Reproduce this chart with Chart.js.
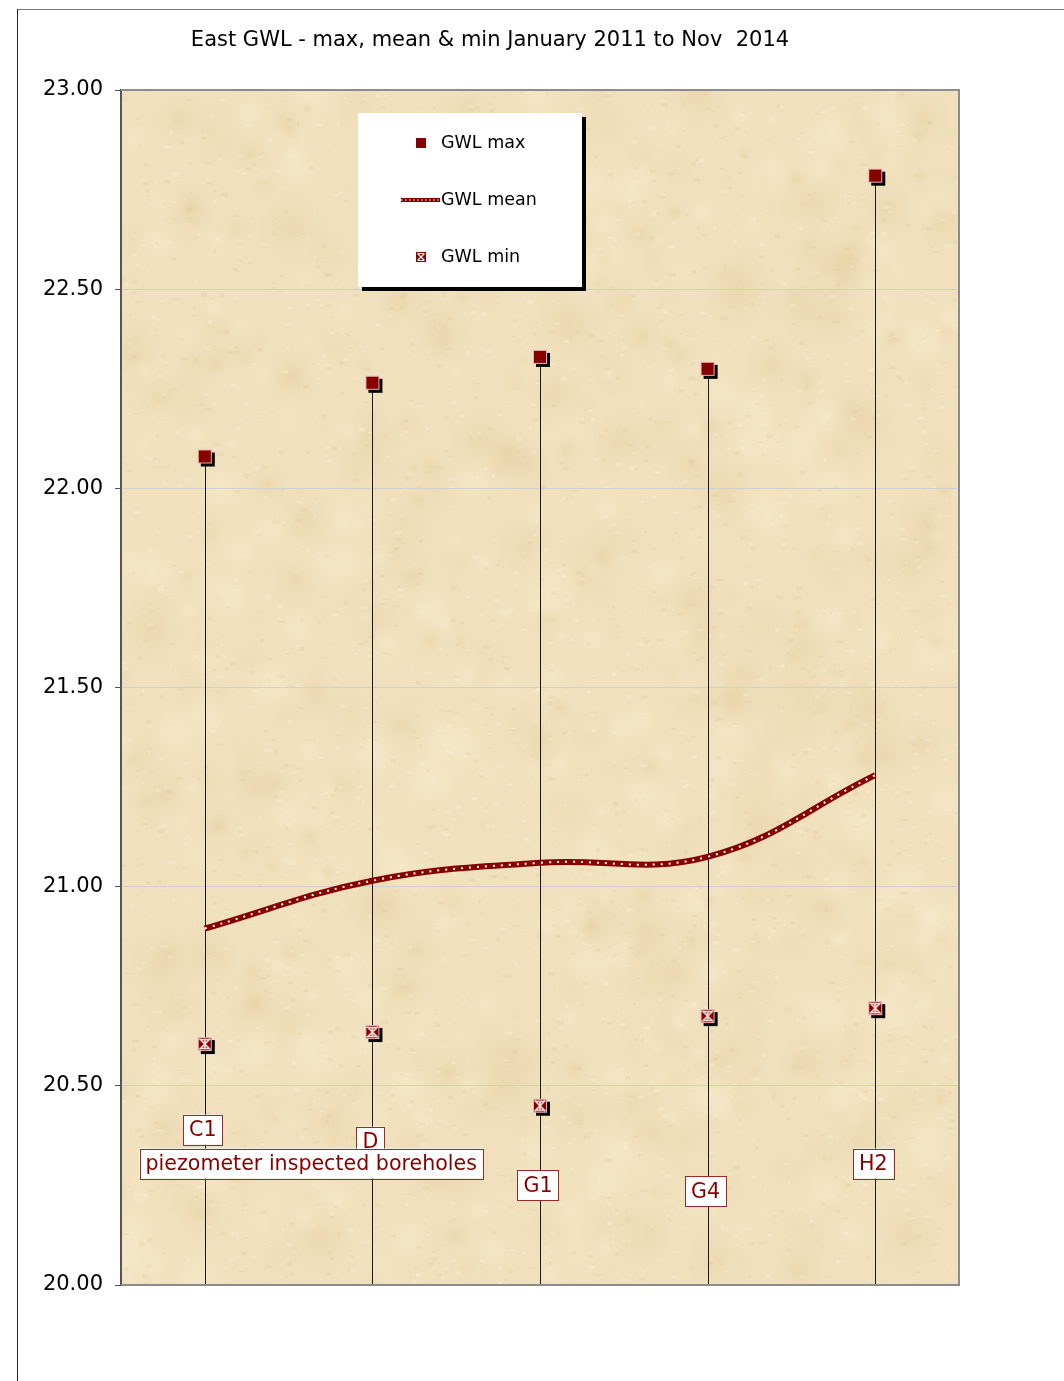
<!DOCTYPE html>
<html lang="en">
<head>
    <meta charset="UTF-8">
    <title>East GWL - max, mean & min</title>
    <style>
        body {
            margin: 0;
            background: #fff;
            font-family: "DejaVu Sans", Verdana, sans-serif;
        }
        #frame {
            position: absolute;
            left: 17px;
            top: 9px;
            width: 1100px;
            height: 1400px;
            border-left: 1px solid #222;
            border-top: 1px solid #777;
        }
        #wrap {
            position: absolute;
            left: 0;
            top: 0;
            width: 1064px;
            height: 1381px;
        }
    </style>
    <script src="https://cdn.jsdelivr.net/npm/chart.js"></script>
</head>
<body>
    <div id="frame"></div>
    <div id="wrap"><canvas id="gwlChart" width="1064" height="1381"></canvas></div>

    <script>
        // boreholes and water levels (m)
        const boreholes = ["C1", "D", "G1", "G4", "H2"];
        const gwlMax = [22.08, 22.265, 22.33, 22.30, 22.785];
        const gwlMean = [20.895, 21.015, 21.06, 21.075, 21.28];
        const gwlMin = [20.605, 20.635, 20.45, 20.675, 20.695];
        // y value where each borehole name box sits
        const labelLevel = [20.39, 20.36, 20.25, 20.235, 20.305];
        const yTicks = [20, 20.5, 21, 21.5, 22, 22.5, 23];
        const noteText = "piezometer inspected boreholes";
        const notePos = 0.635;   // category position of the note box
        const noteLevel = 20.305;
        const chartTitle = "East GWL - max, mean & min January 2011 to Nov  2014";

        const RED = "#870000";
        const FONT = '"DejaVu Sans", Verdana, sans-serif';

        function makeMarker(kind) {
            let c = document.createElement("canvas");
            c.width = 30; c.height = 30;
            let g = c.getContext("2d");
            // shadow
            g.fillStyle = "#000";
            g.fillRect(11, 11, 14, 14);
            g.fillStyle = RED;
            g.fillRect(8, 8, 14, 14);
            g.strokeStyle = "#e8b0b0";
            g.lineWidth = 1;
            g.strokeRect(8.5, 8.5, 13, 13);
            if (kind === "min") {
                g.strokeStyle = "#fbe6e6";
                g.lineWidth = 1.6;
                g.beginPath();
                g.moveTo(9.5, 9.5); g.lineTo(20.5, 20.5);
                g.moveTo(20.5, 9.5); g.lineTo(9.5, 20.5);
                g.moveTo(10, 10.5); g.lineTo(20, 10.5);
                g.moveTo(10, 19.5); g.lineTo(20, 19.5);
                g.moveTo(15, 11); g.lineTo(15, 19);
                g.stroke();
            }
            return c;
        }
        const maxMarker = makeMarker("max");
        const minMarker = makeMarker("min");

        function smallMarker(kind) {
            let c = document.createElement("canvas");
            c.width = 12; c.height = 12;
            let g = c.getContext("2d");
            g.fillStyle = RED;
            g.fillRect(1, 1, 10, 10);
            if (kind === "min") {
                g.strokeStyle = "#fff";
                g.lineWidth = 1.2;
                g.beginPath();
                g.moveTo(2.5, 2.5); g.lineTo(9.5, 9.5);
                g.moveTo(9.5, 2.5); g.lineTo(2.5, 9.5);
                g.moveTo(3, 2.5); g.lineTo(9, 2.5);
                g.moveTo(3, 9.5); g.lineTo(9, 9.5);
                g.stroke();
            }
            return c;
        }

        // seeded generator, only for the parchment texture
        let seed = 7;
        function rnd() {
            seed = (seed * 16807) % 2147483647;
            return (seed - 1) / 2147483646;
        }
        function makeParchment(w, h) {
            let c = document.createElement("canvas");
            c.width = w; c.height = h;
            let g = c.getContext("2d");
            g.fillStyle = "#f0e0bd";
            g.fillRect(0, 0, w, h);
            const tints = ["rgba(226,200,150,0.35)", "rgba(250,238,210,0.45)", "rgba(232,210,165,0.3)", "rgba(246,232,200,0.4)"];
            for (let i = 0; i < 900; i++) {
                let x = rnd() * w, y = rnd() * h, r = 8 + rnd() * 40;
                let grd = g.createRadialGradient(x, y, 0, x, y, r);
                grd.addColorStop(0, tints[i % tints.length]);
                grd.addColorStop(1, "rgba(240,224,189,0)");
                g.fillStyle = grd;
                g.fillRect(x - r, y - r, 2 * r, 2 * r);
            }
            for (let i = 0; i < 2500; i++) {
                let x = rnd() * w, y = rnd() * h;
                g.fillStyle = rnd() > 0.5 ? "rgba(215,188,140,0.18)" : "rgba(255,248,228,0.25)";
                g.fillRect(x, y, 2 + rnd() * 5, 1 + rnd() * 3);
            }
            return c;
        }

        const backgroundPlugin = {
            id: "parchment",
            beforeDraw(chart) {
                const a = chart.chartArea;
                const ctx = chart.ctx;
                if (!chart._parch) chart._parch = makeParchment(Math.ceil(a.right - a.left), Math.ceil(a.bottom - a.top));
                ctx.drawImage(chart._parch, a.left, a.top);
                // title
                ctx.save();
                ctx.fillStyle = "#000";
                ctx.font = "21px " + FONT;
                ctx.textAlign = "center";
                ctx.textBaseline = "middle";
                ctx.fillText(chartTitle, 490, 41);
                ctx.restore();
            },
            afterDraw(chart) {
                const a = chart.chartArea;
                const ctx = chart.ctx;
                ctx.save();
                ctx.strokeStyle = "#8c8c8c";
                ctx.lineWidth = 2;
                ctx.beginPath();
                ctx.moveTo(a.left, a.top);
                ctx.lineTo(a.right, a.top);
                ctx.lineTo(a.right, a.bottom);
                ctx.lineTo(a.left, a.bottom);
                ctx.stroke();
                ctx.restore();
            }
        };

        const dropLinePlugin = {
            id: "dropLines",
            beforeDatasetsDraw(chart) {
                const ctx = chart.ctx;
                const xs = chart.scales.x, ys = chart.scales.y;
                ctx.save();
                ctx.strokeStyle = "#1a1a1a";
                ctx.lineWidth = 1;
                gwlMax.forEach((v, i) => {
                    let x = Math.round(xs.getPixelForValue(i)) + 0.5;
                    ctx.beginPath();
                    ctx.moveTo(x, ys.getPixelForValue(v));
                    ctx.lineTo(x, chart.chartArea.bottom);
                    ctx.stroke();
                });
                ctx.restore();
            }
        };

        function boxLabel(ctx, text, cx, cy) {
            ctx.font = "20.6px " + FONT;
            let w = ctx.measureText(text).width + 12;
            let h = 30;
            ctx.fillStyle = "#fff";
            ctx.fillRect(cx - w / 2, cy - h / 2, w, h);
            ctx.strokeStyle = "#9a2a2a";
            ctx.lineWidth = 1;
            ctx.strokeRect(Math.round(cx - w / 2) + 0.5, Math.round(cy - h / 2) + 0.5, Math.round(w), h);
            ctx.fillStyle = RED;
            ctx.textAlign = "center";
            ctx.textBaseline = "middle";
            ctx.fillText(text, cx, cy + 1);
        }

        const labelPlugin = {
            id: "boreLabels",
            afterDatasetsDraw(chart) {
                const ctx = chart.ctx;
                const xs = chart.scales.x, ys = chart.scales.y;
                ctx.save();
                boreholes.forEach((b, i) => {
                    boxLabel(ctx, b, xs.getPixelForValue(i) - 2, ys.getPixelForValue(labelLevel[i]));
                });
                boxLabel(ctx, noteText, xs.getPixelForValue(notePos), ys.getPixelForValue(noteLevel));
                ctx.restore();
            }
        };

        const legendPlugin = {
            id: "boxLegend",
            afterDraw(chart) {
                const ctx = chart.ctx;
                const x0 = 358, y0 = 113, w = 224, h = 174;
                ctx.save();
                ctx.fillStyle = "#000";
                ctx.fillRect(x0 + 4, y0 + 4, w, h);
                ctx.fillStyle = "#fff";
                ctx.fillRect(x0, y0, w, h);
                ctx.font = "17.5px " + FONT;
                ctx.textBaseline = "middle";
                ctx.textAlign = "left";
                const rows = [143, 200, 257];
                ctx.drawImage(smallMarker("max"), 415, rows[0] - 6);
                ctx.drawImage(smallMarker("min"), 415, rows[2] - 6);
                ctx.strokeStyle = RED;
                ctx.lineWidth = 4;
                ctx.beginPath();
                ctx.moveTo(401, rows[1]);
                ctx.lineTo(440, rows[1]);
                ctx.stroke();
                ctx.strokeStyle = "#fff";
                ctx.lineWidth = 1;
                ctx.setLineDash([1.5, 2.5]);
                ctx.beginPath();
                ctx.moveTo(401, rows[1]);
                ctx.lineTo(440, rows[1]);
                ctx.stroke();
                ctx.setLineDash([]);
                ctx.fillStyle = "#000";
                const names = chart.data.datasets.filter(d => d.label).map(d => d.label);
                names.forEach((n, i) => ctx.fillText(n, 441, rows[i]));
                ctx.restore();
            }
        };

        const ctx = document.getElementById("gwlChart").getContext("2d");
        const chart = new Chart(ctx, {
            type: "line",
            data: {
                labels: boreholes,
                datasets: [
                    {
                        label: "GWL max",
                        data: gwlMax,
                        showLine: false,
                        pointStyle: maxMarker,
                        order: 1
                    },
                    {
                        label: "GWL mean",
                        data: gwlMean,
                        borderColor: RED,
                        borderWidth: 6,
                        tension: 0.4,
                        pointRadius: 0,
                        order: 4
                    },
                    {
                        label: "",
                        data: gwlMean,
                        borderColor: "#ffffff",
                        borderWidth: 2,
                        borderDash: [2, 6],
                        tension: 0.4,
                        pointRadius: 0,
                        order: 3
                    },
                    {
                        label: "GWL min",
                        data: gwlMin,
                        showLine: false,
                        pointStyle: minMarker,
                        order: 2
                    }
                ]
            },
            options: {
                responsive: false,
                animation: false,
                layout: { padding: { left: 0, top: 90, right: 105, bottom: 96 } },
                plugins: {
                    legend: { display: false },
                    tooltip: { enabled: false }
                },
                scales: {
                    x: {
                        display: false,
                        offset: true
                    },
                    y: {
                        min: 20,
                        max: 23,
                        afterFit(s) { s.width = 121; },
                        afterBuildTicks(s) { s.ticks = yTicks.map(v => ({ value: v })); },
                        ticks: {
                            color: "#000",
                            padding: 12,
                            font: { family: FONT, size: 21 },
                            callback: v => v.toFixed(2)
                        },
                        grid: {
                            color: "#d0d0d0",
                            lineWidth: 1,
                            tickLength: 6,
                            tickColor: "#555"
                        },
                        border: { color: "#555", width: 2 }
                    }
                }
            },
            plugins: [backgroundPlugin, dropLinePlugin, labelPlugin, legendPlugin]
        });
    </script>
</body>
</html>
